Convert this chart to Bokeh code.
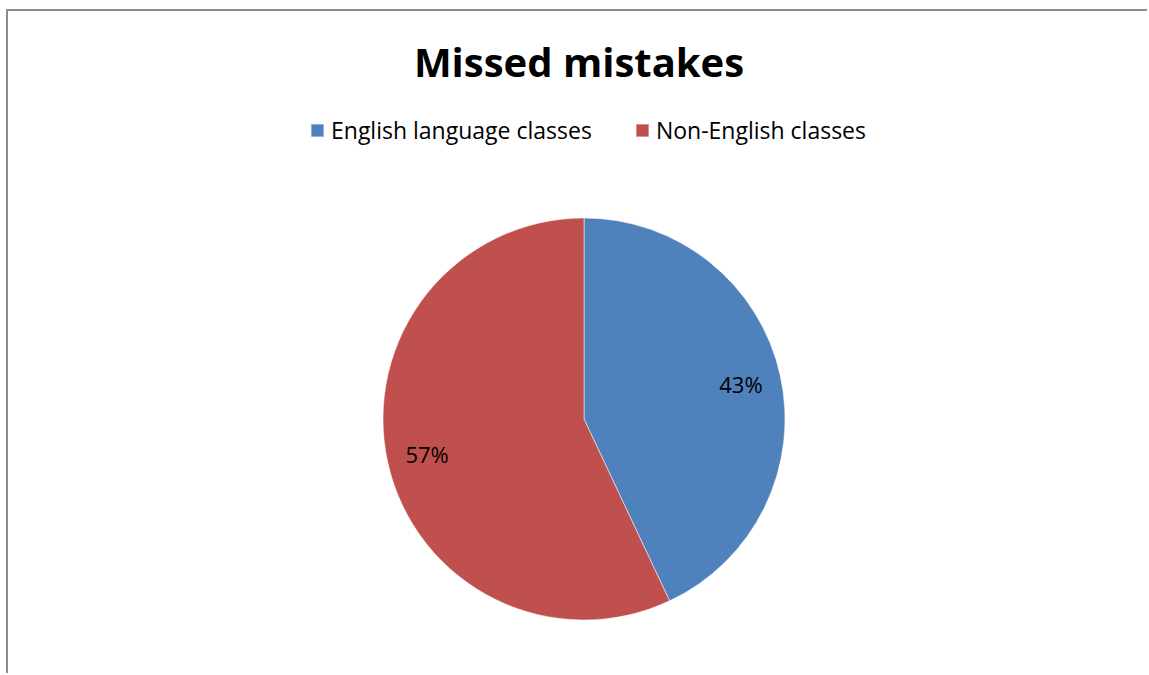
import numpy as np
from bokeh.plotting import figure
from bokeh.models import Range1d, Title, Legend, LegendItem, ColumnDataSource
from bokeh.core.properties import value
from bokeh.embed import file_html
from bokeh.resources import INLINE

categories = ["English language classes", "Non-English classes"]
values = [43, 57]
colors = ["#4F81BD", "#C0504D"]
labels = ["43%", "57%"]

FONT = "Open Sans"
TOP = 97  # space above the plotting frame (title area)
FRAME_H = 664 - TOP

p = figure(width=1141, height=664, output_backend="svg", toolbar_location=None,
           min_border_left=0, min_border_right=0, min_border_bottom=0, min_border_top=TOP,
           x_range=Range1d(8, 1149), y_range=Range1d(0, FRAME_H))
p.axis.visible = False
p.grid.visible = False
p.outline_line_color = None
p.background_fill_color = "white"
p.border_fill_color = "white"
p.styles = {"border-left": "2px solid #8c8c8c", "border-top": "2px solid #8c8c8c",
            "margin-left": "6px", "margin-top": "9px"}

t = Title(text="Missed mistakes", align="center", text_font=FONT, text_font_size="40px",
          text_font_style="bold", text_color="black", standoff=40)
p.add_layout(t, "above")

vals = np.array(values, dtype=float)
frac = vals / vals.sum()
cum = np.concatenate([[0], np.cumsum(frac)])
start = np.pi / 2 - 2 * np.pi * cum[:-1]
end = np.pi / 2 - 2 * np.pi * cum[1:]
cx, cy, R = 583.5, 675 - 418.5, 201

src = ColumnDataSource(dict(start=start, end=end, color=colors, cat=categories,
                            x=[cx] * len(values), y=[cy] * len(values)))
r = p.wedge(x="x", y="y", radius=R, radius_units="screen", start_angle="start", end_angle="end",
            direction="clock", fill_color="color", line_color="white", line_alpha=0.5,
            line_width=1, source=src)

mid = (start + end) / 2
lx = cx + 0.8 * R * np.cos(mid)
ly = cy + 0.8 * R * np.sin(mid)
p.text(x=lx, y=ly, text=labels, text_align="center", text_baseline="middle",
       text_font=value(FONT), text_font_size="22px", text_color="black")

items = [LegendItem(label=c, renderers=[r], index=i) for i, c in enumerate(categories)]
leg = Legend(items=items, orientation="horizontal", location=(301, FRAME_H - 38),
             glyph_width=16, glyph_height=16, label_standoff=6, spacing=42,
             label_text_font=FONT, label_text_font_size="23px", label_text_color="black",
             border_line_color=None, background_fill_alpha=0, margin=0, padding=4)
p.add_layout(leg, "center")

open("out.html", "w").write(file_html(p, INLINE))
